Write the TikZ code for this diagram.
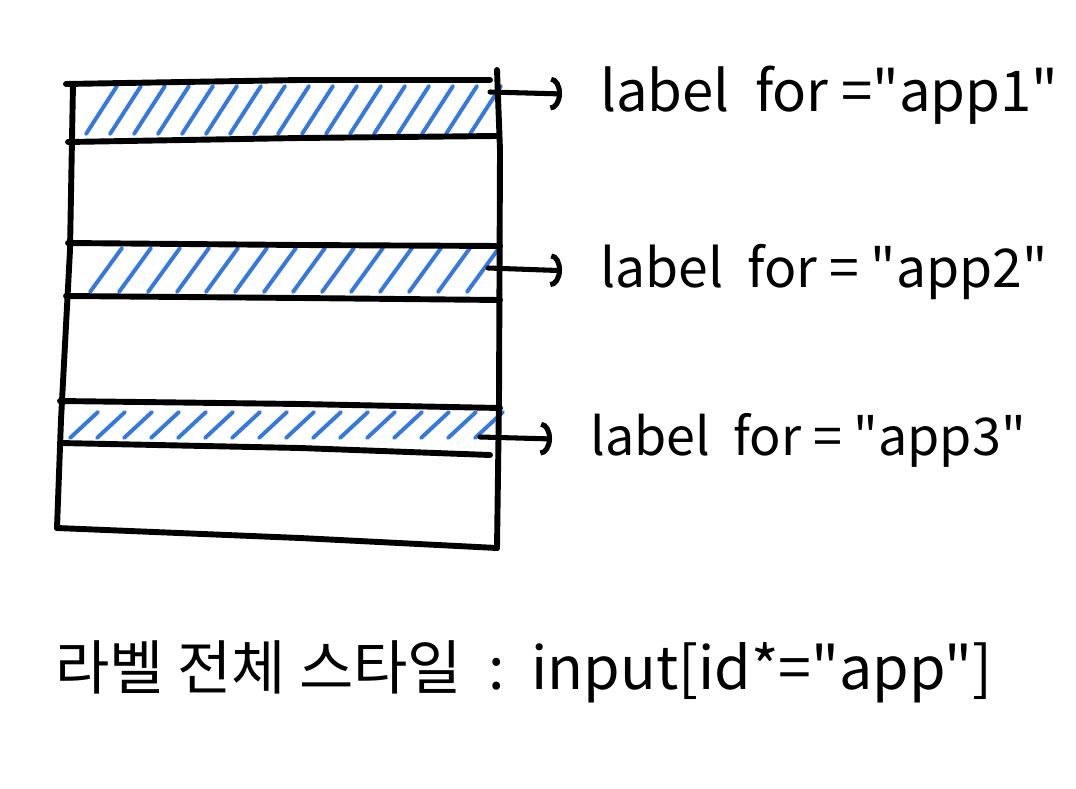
\documentclass[tikz,border=0pt]{standalone}
\usepackage{fontspec}
\setmainfont{Noto Sans CJK KR}[Ligatures=TeXOff]
\usetikzlibrary{arrows.meta}
\definecolor{penblue}{RGB}{52,120,226}

\begin{document}
\begin{tikzpicture}[x=0.025cm,y=-0.025cm,
  frame/.style={line width=4.2pt,line cap=round,line join=round},
  hatch/.style={draw=penblue,line width=2.8pt,line cap=round},
  pointer/.style={line width=3.6pt,line cap=round,-{Arc Barb[length=8pt,width=24pt]},shorten >=0.95cm},
  tag/.style={anchor=west,inner sep=0pt,font=\fontsize{40}{44}\selectfont}]
  \useasboundingbox (0,0) rectangle (1076,788);

  % hatching first, lines over it
  \foreach \i in {0,...,16}
    \draw[hatch] ({86+\i*24},134) -- ++(31,-48);
  \foreach \i in {0,...,13}
    \draw[hatch] ({90+\i*29},292) -- ++(32,-44);
  \foreach \i in {0,...,15}
    \draw[hatch] ({70+\i*27},438) -- ++(28,-26);

  % outer frame
  \draw[frame] (66,84) -- (300,80) -- (490,80);
  \draw[frame] (497,70) -- (500,150) -- (499,400) -- (497,548);
  \draw[frame] (73,84) -- (70,250) -- (61,420) -- (57,528);
  \draw[frame] (57,528) -- (300,538) -- (497,548);

  % band edges
  \draw[frame] (68,142) -- (300,138) -- (497,136);
  \draw[frame] (68,243) -- (300,245) -- (500,246);
  \draw[frame] (66,296) -- (300,298) -- (500,300);
  \draw[frame] (60,401) -- (300,404) -- (500,408);
  \draw[frame] (60,443) -- (300,448) -- (490,455);

  % labels
  \node[tag] (app1tag) at (600,95) {label\ \ for\ ="app1"};
  \node[tag,font=\fontsize{38}{42}\selectfont] (app2tag) at (600,272) {label\ \ for\ =\ "app2"};
  \node[tag,font=\fontsize{37}{42}\selectfont] (app3tag) at (590,440) {label\ \ for\ =\ "app3"};
  \node[tag,font=\fontsize{42}{46}\selectfont] (styletag) at (55,672)
    {라벨 전체 스타일\ \ :\ \ input[id*="app"]};

  \coordinate (band1) at (490,92);
  \coordinate (band2) at (488,268);
  \coordinate (band3) at (480,437);
  \draw[pointer] (band1) -- (app1tag.west);
  \draw[pointer] (band2) -- (app2tag.west);
  \draw[pointer] (band3) -- (app3tag.west);
\end{tikzpicture}
\end{document}
